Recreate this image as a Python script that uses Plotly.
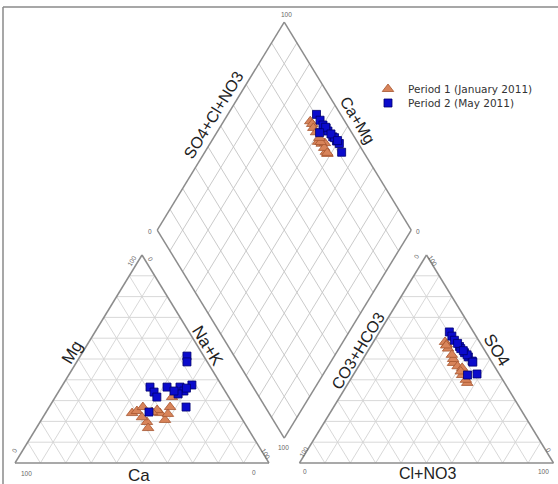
import numpy as np
import plotly.graph_objects as go

W, H = 558, 484
TICKS = list(range(10, 100, 10))
GAP = 12.0
S3 = np.sqrt(3) / 2

# ---- data (meq %) ----
# Period 1 (January 2011)
p1_mg = [24.0, 25.0, 26.9, 19.7, 16.8, 24.0, 20.7, 26.9, 31.7, 25.5, 24.5, 23.6, 22.0]
p1_nak = [34.1, 35.5, 36.9, 42.1, 44.0, 45.1, 48.7, 47.6, 46.0, 43.2, 41.7, 48.4, 39.0]
p1_so4 = [58.2, 57.0, 55.0, 48.1, 46.5, 45.7, 38.5, 42.3, 44.0, 50.0, 52.0, 40.0, 56.5]
p1_clno3 = [28.2, 29.5, 31.0, 36.4, 39.0, 41.2, 46.8, 42.9, 41.5, 35.5, 34.0, 45.5, 29.5]
# Period 2 (May 2011)
p2_mg = [51.4, 48.6, 36.5, 34.1, 31.7, 36.5, 36.5, 34.6, 37.5, 33.2, 34.6, 26.9, 24.5, 36.0]
p2_nak = [42.0, 43.4, 34.9, 37.7, 40.0, 41.6, 46.7, 49.2, 50.9, 47.6, 45.3, 53.9, 40.5, 49.5]
p2_so4 = [56.0, 55.0, 63.0, 61.0, 59.0, 57.5, 53.0, 51.0, 49.0, 52.0, 54.0, 42.8, 42.3, 48.5]
p2_clno3 = [35.0, 36.0, 27.5, 29.5, 31.5, 33.5, 38.5, 41.0, 43.5, 40.0, 37.5, 48.5, 45.0, 44.0]

# ---- piper transforms ----
def cat_xy(mg, nak):
    mg, nak = np.asarray(mg, float), np.asarray(nak, float)
    return nak + mg / 2, mg * S3

def an_xy(so4, cl):
    so4, cl = np.asarray(so4, float), np.asarray(cl, float)
    return 100 + GAP + cl + so4 / 2, so4 * S3

def dia_xy(camg, so4cl):
    camg, so4cl = np.asarray(camg, float), np.asarray(so4cl, float)
    return 100 + GAP / 2 + 0.5 * (so4cl - camg), GAP * S3 + S3 * (so4cl + camg)

def segs(pairs):
    xs, ys = [], []
    for (x0, y0), (x1, y1) in pairs:
        xs += [float(x0), float(x1), None]
        ys += [float(y0), float(y1), None]
    return xs, ys

fig = go.Figure()

def add_lines(pairs, color, width, dash="solid"):
    xs, ys = segs(pairs)
    fig.add_trace(go.Scatter(x=xs, y=ys, mode="lines", showlegend=False, hoverinfo="skip",
                             line=dict(color=color, width=width, dash=dash)))

# triangle grids
tri_grid = []
for t in TICKS:
    tri_grid += [(cat_xy(t, 0), cat_xy(t, 100 - t)),
                 (cat_xy(0, t), cat_xy(100 - t, t)),
                 (cat_xy(0, 100 - t), cat_xy(100 - t, 0)),
                 (an_xy(t, 0), an_xy(t, 100 - t)),
                 (an_xy(0, t), an_xy(100 - t, t)),
                 (an_xy(0, 100 - t), an_xy(100 - t, 0))]
add_lines(tri_grid, "#d4d4d4", 0.9)

dia_grid = []
for t in TICKS:
    dia_grid += [(dia_xy(t, 0), dia_xy(t, 100)), (dia_xy(0, t), dia_xy(100, t))]
add_lines(dia_grid, "#c4c4c4", 0.9)

# outlines
outl = []
for f in (cat_xy, an_xy):
    a, b, c = f(0, 0), f(0, 100), f(100, 0)
    outl += [(a, b), (b, c), (c, a)]
d0, d1, d2, d3 = dia_xy(0, 0), dia_xy(100, 0), dia_xy(100, 100), dia_xy(0, 100)
outl += [(d0, d1), (d1, d2), (d2, d3), (d3, d0)]
add_lines(outl, "#8c8c8c", 1.5)

# data points
series = [
    ("Period 1 (January 2011)", p1_mg, p1_nak, p1_so4, p1_clno3, "triangle-up", 10, "#d8845a", "#a65530", "legend"),
    ("Period 2 (May 2011)", p2_mg, p2_nak, p2_so4, p2_clno3, "square", 8, "#0b0bcc", "#00006e", "legend2"),
]
for name, mg, nak, so4, cl, sym, size, fc, lc, lg in series:
    mg, nak, so4, cl = map(lambda v: np.asarray(v, float), (mg, nak, so4, cl))
    cx, cy = cat_xy(mg, nak)
    ax, ay = an_xy(so4, cl)
    dx, dy = dia_xy(100 - nak, so4 + cl)
    fig.add_trace(go.Scatter(x=np.concatenate([cx, ax, dx]), y=np.concatenate([cy, ay, dy]),
                             mode="markers", name=name, legend=lg,
                             marker=dict(symbol=sym, size=size, color=fc, line=dict(color=lc, width=0.8))))

ANG = float(np.degrees(np.arctan2(86.6 * 2.4018, 50 * 2.54)))

def lab(text, px, py, angle=0, size=16, color="#222"):
    fig.add_annotation(x=px / W, y=1 - py / H, xref="paper", yref="paper", text=text,
                       showarrow=False, textangle=angle, xanchor="center", yanchor="middle",
                       font=dict(size=size, color=color, family="Liberation Sans, Arial, sans-serif"))

# axis titles
lab("Mg", 72, 352, -ANG, size=17)
lab("Na+K", 208, 346, ANG, size=17)
lab("Ca", 139, 475, size=17)
lab("CO3+HCO3", 358, 350, -ANG)
lab("SO4", 497, 350, ANG, size=17)
lab("Cl+NO3", 427, 473)
lab("SO4+Cl+NO3", 213, 115, -ANG)
lab("Ca+Mg", 358, 120, ANG)

# small tick labels
tk = dict(size=6.5, color="#666")
lab("100", 26, 473, **tk)
lab("0", 254, 472, **tk)
lab("0", 14, 450, -ANG, **tk)
lab("100", 131, 261, -ANG, **tk)
lab("0", 151, 259, ANG, **tk)
lab("100", 266, 453, ANG, **tk)
lab("0", 305, 471, **tk)
lab("100", 543, 471, **tk)
lab("100", 303, 452, -ANG, **tk)
lab("0", 416, 256, -ANG, **tk)
lab("100", 433, 260, ANG, **tk)
lab("0", 549, 450, ANG, **tk)
lab("100", 286, 15, **tk)
lab("0", 150, 231, **tk)
lab("0", 418, 231, **tk)
lab("100", 283, 447, **tk)

# frame
fig.add_shape(type="line", xref="paper", yref="paper", x0=3 / W, x1=3 / W, y0=0, y1=1 - 7 / H,
              line=dict(color="#8a8a8a", width=1.5))
fig.add_shape(type="line", xref="paper", yref="paper", x0=3 / W, x1=1, y0=1 - 7 / H, y1=1 - 7 / H,
              line=dict(color="#8a8a8a", width=1.5))

leg = dict(xanchor="left", yanchor="middle", bgcolor="rgba(0,0,0,0)", borderwidth=0,
           font=dict(size=10.5, color="#333", family="DejaVu Sans, Verdana, sans-serif"))
fig.update_layout(
    width=W, height=H, margin=dict(l=0, r=0, t=0, b=0),
    paper_bgcolor="white", plot_bgcolor="white",
    xaxis=dict(range=[-15 / 2.54, 543 / 2.54], visible=False, fixedrange=True),
    yaxis=dict(range=[-21 / 2.4018, 463 / 2.4018], visible=False, fixedrange=True),
    legend=dict(x=368 / W, y=1 - 89 / H, **leg),
    legend2=dict(x=368 / W, y=1 - 103 / H, **leg),
)
fig.write_html("out.html", config={"displayModeBar": False},
               post_script="document.body.style.margin='0px';document.body.style.overflow='hidden';")
